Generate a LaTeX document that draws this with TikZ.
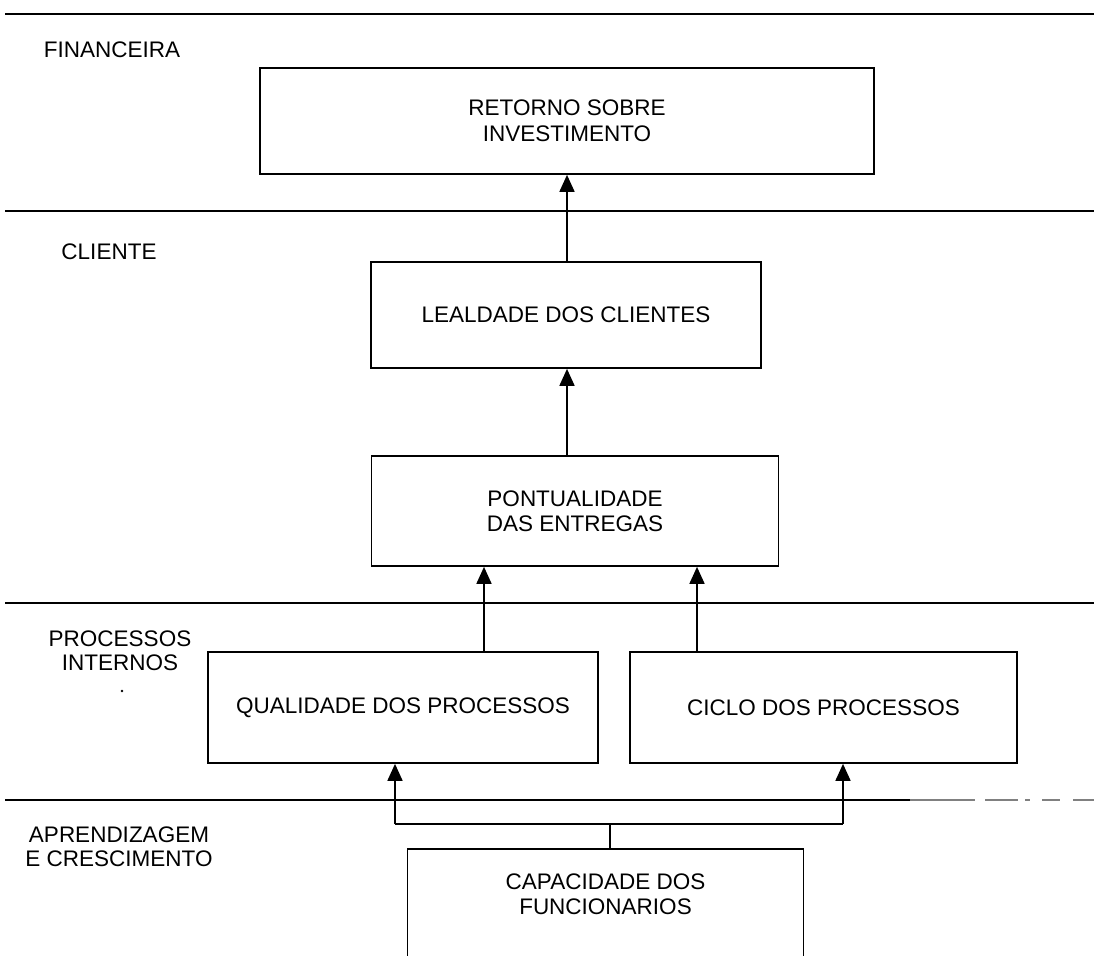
\documentclass[tikz,border=0pt]{standalone}
\usepackage{fontspec}
\setmainfont{Liberation Sans}
\usetikzlibrary{arrows.meta}
\begin{document}
\begin{tikzpicture}[x=1pt,y=-1pt,
  lane/.style={line width=1.7pt},
  box/.style={draw,line width=1.7pt,align=center,inner sep=0pt,
    font=\fontsize{22.5}{25.5}\selectfont},
  lbl/.style={align=center,inner sep=0pt,font=\fontsize{22.5}{24}\selectfont},
  link/.style={line width=1.7pt,-{Triangle[width=15pt,length=17pt]}}]
\useasboundingbox (0,0) rectangle (1094,955);
\clip (0,0) rectangle (1094,955);

% perspective separators
\coordinate (s1l) at (5,14);   \coordinate (s1r) at (1094,14);
\coordinate (s2l) at (5,211);  \coordinate (s2r) at (1094,211);
\coordinate (s3l) at (5,603);  \coordinate (s3r) at (1094,603);
\coordinate (s4l) at (5,800);  \coordinate (s4m) at (910,800);
\coordinate (s4r) at (1094,800);
\draw[lane] (s1l) -- (s1r);
\draw[lane] (s2l) -- (s2r);
\draw[lane] (s3l) -- (s3r);
\draw[lane] (s4l) -- (s4m);
\draw[lane,gray,dash pattern=on 65pt off 10pt on 33pt off 7pt on 5pt off 12pt on 18pt off 13pt]
  (s4m) -- (s4r);

% perspective names
\node[lbl] (fin) at (112,50) {FINANCEIRA};
\node[lbl] (cli) at (109,252) {CLIENTE};
\node[lbl] (pro) at (120,651) {PROCESSOS\\INTERNOS};
\node[lbl] (apr) at (119,847) {APRENDIZAGEM\\E CRESCIMENTO};
\fill (122,691) circle (1.3pt);

% objectives
\node[box,minimum width=614pt,minimum height=106pt] (roi) at (567,121)
  {RETORNO SOBRE\\INVESTIMENTO};
\node[box,minimum width=390pt,minimum height=106pt] (leal) at (566,315)
  {LEALDADE DOS CLIENTES};
\node[box,minimum width=407pt,minimum height=110pt] (pont) at (575,511)
  {PONTUALIDADE\\DAS ENTREGAS};
\node[box,minimum width=390pt,minimum height=111pt] (qual) at (403,707.5)
  {QUALIDADE DOS PROCESSOS};
\node[box,minimum width=387pt,minimum height=111pt] (cicl) at (823.5,707.5)
  {CICLO DOS PROCESSOS};
\node[box,minimum width=396pt,minimum height=112pt,text depth=22pt] (cap) at (605.5,905)
  {CAPACIDADE DOS\\FUNCIONARIOS};

% cause-and-effect links
\coordinate (xa) at (567,0);
\coordinate (xq) at (484,0);
\coordinate (xc) at (697,0);
\draw[link] (leal.north -| xa) -- (roi.south -| xa);
\draw[link] (pont.north -| xa) -- (leal.south -| xa);
\draw[link] (qual.north -| xq) -- (pont.south -| xq);
\draw[link] (cicl.north -| xc) -- (pont.south -| xc);

\coordinate (jl) at (395,824);
\coordinate (jm) at (610,824);
\coordinate (jr) at (843,824);
\draw[lane] (cap.north -| jm) -- (jm);
\draw[lane] (jl) -- (jr);
\draw[link] (jl) -- (qual.south -| jl);
\draw[link] (jr) -- (cicl.south -| jr);
\end{tikzpicture}
\end{document}
